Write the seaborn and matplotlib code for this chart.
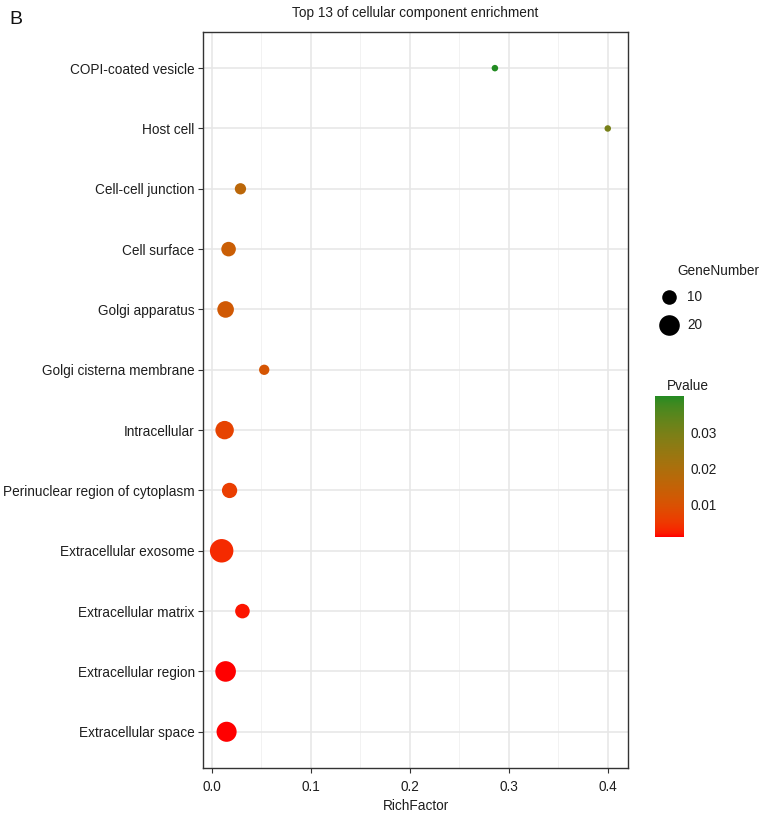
import numpy as np
import pandas as pd
import seaborn as sns
import matplotlib.pyplot as plt
import matplotlib as mpl
from matplotlib.colors import LinearSegmentedColormap, Normalize
from matplotlib.lines import Line2D

# -----------------------------------
# Data
# -----------------------------------
terms = [
    "COPI-coated vesicle",
    "Host cell",
    "Cell-cell junction",
    "Cell surface",
    "Golgi apparatus",
    "Golgi cisterna membrane",
    "Intracellular",
    "Perinuclear region of cytoplasm",
    "Extracellular exosome",
    "Extracellular matrix",
    "Extracellular region",
    "Extracellular space",
]
rich_factor = [0.286, 0.400, 0.029, 0.017, 0.014, 0.053, 0.013, 0.018, 0.010, 0.031, 0.014, 0.015]
gene_number = [2, 2, 6, 10, 13, 5, 16, 11, 26, 10, 20, 19]
pvalue = [0.0400, 0.0300, 0.0167, 0.0136, 0.0120, 0.0110, 0.0070, 0.0062, 0.0035, 0.0020, 0.0013, 0.0012]

size_legend = [10, 20]
cbar_ticks = [0.01, 0.02, 0.03]

df = pd.DataFrame({"Term": terms, "RichFactor": rich_factor,
                   "GeneNumber": gene_number, "Pvalue": pvalue})


# -----------------------------------
# ggplot-like red -> forestgreen gradient (interpolated in Lab)
# -----------------------------------
WHITE = np.array([0.95047, 1.0, 1.08883])
M = np.array([[0.4124, 0.3576, 0.1805],
              [0.2126, 0.7152, 0.0722],
              [0.0193, 0.1192, 0.9505]])


def to_lab(rgb):
    c = np.asarray(rgb, float)
    c = np.where(c <= 0.04045, c / 12.92, ((c + 0.055) / 1.055) ** 2.4)
    t = (M @ c) / WHITE
    f = np.where(t > 0.008856, np.cbrt(t), 7.787 * t + 16 / 116)
    return np.array([116 * f[1] - 16, 500 * (f[0] - f[1]), 200 * (f[1] - f[2])])


def from_lab(lab):
    L, a, b = lab
    fy = (L + 16) / 116
    f = np.array([fy + a / 500, fy, fy - b / 200])
    t = np.where(f ** 3 > 0.008856, f ** 3, (f - 16 / 116) / 7.787) * WHITE
    c = np.linalg.solve(M, t)
    c = np.where(c <= 0.0031308, 12.92 * c, 1.055 * np.clip(c, 0, None) ** (1 / 2.4) - 0.055)
    return np.clip(c, 0, 1)


low = to_lab(mpl.colors.to_rgb("red"))
high = to_lab(mpl.colors.to_rgb("forestgreen"))
stops = [from_lab(low + (high - low) * s) for s in np.linspace(0, 1, 64)]
cmap = LinearSegmentedColormap.from_list("red_green", stops)
pnorm = Normalize(vmin=min(pvalue), vmax=max(pvalue))

# -----------------------------------
# Plot
# -----------------------------------
sns.set_theme(style="white")
plt.rcParams["font.family"] = ["Liberation Sans", "DejaVu Sans"]
FS = 9.8
TXT = "#1e1e1e"

fig = plt.figure(figsize=(7.65, 8.19), dpi=100)
ax = fig.add_axes([0.2654, 0.0623, 0.5556, 0.8987])

# area proportional to GeneNumber
S_PER_GENE = 11.0
sns.scatterplot(
    data=df, x="RichFactor", y="Term",
    hue="Pvalue", palette=cmap, hue_norm=pnorm,
    size="GeneNumber", sizes=(0, 30 * S_PER_GENE), size_norm=(0, 30),
    linewidth=0, alpha=1, legend=False, ax=ax, zorder=3,
)

ax.set_xlim(-0.0088, 0.4205)
ax.set_ylim(len(terms) - 0.4, -0.6)
ax.set_xticks([0.0, 0.1, 0.2, 0.3, 0.4])
ax.set_xticks([0.05, 0.15, 0.25, 0.35], minor=True)
ax.set_xticklabels(["0.0", "0.1", "0.2", "0.3", "0.4"])
ax.grid(True, which="major", color="#e6e6e6", linewidth=1.1, zorder=0)
ax.grid(True, which="minor", axis="x", color="#f0f0f0", linewidth=0.6, zorder=0)
ax.set_axisbelow(True)

for s in ax.spines.values():
    s.set_color("#333333")
    s.set_linewidth(1.0)

ax.tick_params(axis="both", which="major", direction="out", length=3.5, width=0.8,
               color="#333333", labelsize=FS, labelcolor=TXT, pad=2.5,
               bottom=True, left=True)
ax.tick_params(axis="x", which="major", pad=5)
ax.tick_params(axis="x", which="minor", length=0)

ax.set_xlabel("RichFactor", fontsize=FS, color=TXT, labelpad=4)
ax.set_ylabel("")
ax.set_title("Top 13 of cellular component enrichment", fontsize=FS,
             color=TXT, pad=11)

fig.text(0.012, 0.976, "B", fontsize=14, ha="left", va="center", color="#111111")

# -----------------------------------
# Size legend (drawn by hand, ggplot style)
# -----------------------------------
fig.text(0.886, 0.6695, "GeneNumber", fontsize=FS, color=TXT, ha="left", va="center")
key_y = [0.6377, 0.6030]
for n, yk in zip(size_legend, key_y):
    fig.add_artist(Line2D([0.8748], [yk], marker="o", linestyle="", color="black",
                          markersize=np.sqrt(S_PER_GENE * n), markeredgewidth=0,
                          transform=fig.transFigure))
    fig.text(0.8985, yk, str(n), fontsize=FS, color=TXT, ha="left", va="center")

# -----------------------------------
# Colour bar
# -----------------------------------
fig.text(0.872, 0.529, "Pvalue", fontsize=FS, color=TXT, ha="left", va="center")
cax = fig.add_axes([0.8562, 0.3443, 0.0379, 0.1725])
sm = mpl.cm.ScalarMappable(norm=pnorm, cmap=cmap)
cb = fig.colorbar(sm, cax=cax, ticks=cbar_ticks)
cb.outline.set_visible(False)
cb.ax.set_yticklabels([f"{t:.2f}" for t in cbar_ticks])
cb.ax.yaxis.set_ticks_position("both")
cb.ax.tick_params(direction="in", length=5, width=0.8, color="white",
                  labelsize=FS, labelcolor=TXT, pad=5,
                  left=True, right=True, labelleft=False, labelright=True)

fig.savefig("out.png", dpi=100, facecolor="white")
